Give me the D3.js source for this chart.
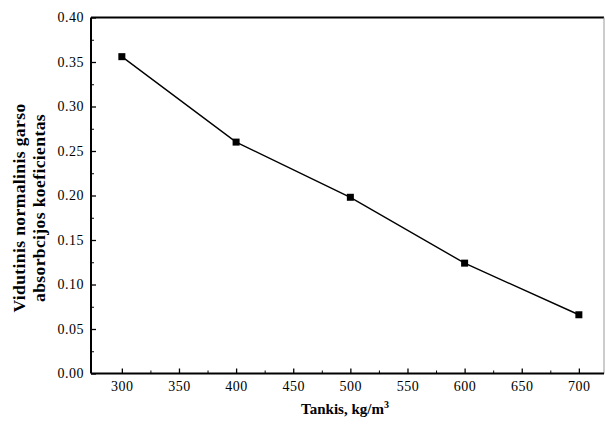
<!DOCTYPE html>
<html><head><meta charset="utf-8">
<script src="https://cdn.jsdelivr.net/npm/d3@7"></script>
<style>body{margin:0;background:#fff}svg{display:block}</style>
</head><body>
<script>
const density = [300, 400, 500, 600, 700];
const absorption = [0.356, 0.260, 0.198, 0.124, 0.066];
const xTicks = [300, 350, 400, 450, 500, 550, 600, 650, 700];
const yTicks = [0.00, 0.05, 0.10, 0.15, 0.20, 0.25, 0.30, 0.35, 0.40];

const W = 605, H = 424;
const L = 91, R = 604, T = 17.5, B = 373.5;
const svg = d3.select("body").append("svg").attr("width", W).attr("height", H);
const x = d3.scaleLinear().domain([273, 722]).range([L, R]);
const y = d3.scaleLinear().domain([0, 0.40]).range([B, T]);
const font = "'Liberation Serif', 'Times New Roman', serif";

// frame
svg.append("line").attr("x1", L).attr("x2", R).attr("y1", T).attr("y2", T).attr("stroke", "#000").attr("stroke-width", 2);
svg.append("line").attr("x1", R).attr("x2", R).attr("y1", T).attr("y2", B).attr("stroke", "#999").attr("stroke-width", 1);

// x axis
const xAxis = d3.axisBottom(x).tickValues(xTicks).tickSize(-5).tickPadding(8).tickFormat(d3.format("d"));
const gx = svg.append("g").attr("transform", `translate(0,${B})`).call(xAxis);
gx.select(".domain").attr("stroke-width", 2).attr("d", `M${L},0H${R}`);
gx.selectAll(".tick line").attr("stroke-width", 1.3);
gx.selectAll("text").attr("font-family", font).attr("font-size", 14).attr("letter-spacing", 0.5).attr("fill", "#000");
const xMinor = d3.axisBottom(x).tickValues(d3.range(325, 725, 50)).tickSize(-3).tickFormat("");
const gxm = svg.append("g").attr("transform", `translate(0,${B})`).call(xMinor);
gxm.select(".domain").remove();

// y axis
const yAxis = d3.axisLeft(y).tickValues(yTicks).tickSize(-5).tickPadding(7).tickFormat(d3.format(".2f"));
const gy = svg.append("g").attr("transform", `translate(${L},0)`).call(yAxis);
gy.select(".domain").attr("stroke-width", 2).attr("d", `M0,${T}V${B}`);
gy.selectAll(".tick line").attr("stroke-width", 1.3);
gy.selectAll("text").attr("font-family", font).attr("font-size", 14).attr("letter-spacing", 0.5).attr("fill", "#000");
const yMinor = d3.axisLeft(y).tickValues(d3.range(0.025, 0.4, 0.05)).tickSize(-3).tickFormat("");
const gym = svg.append("g").attr("transform", `translate(${L},0)`).call(yMinor);
gym.select(".domain").remove();

// line + markers
const pts = density.map((d, i) => [d, absorption[i]]);
svg.append("path").datum(pts)
  .attr("d", d3.line().x(d => x(d[0])).y(d => y(d[1])))
  .attr("fill", "none").attr("stroke", "#000").attr("stroke-width", 1.4);
svg.selectAll("rect.m").data(pts).enter().append("rect").attr("class", "m")
  .attr("x", d => x(d[0]) - 3.5).attr("y", d => y(d[1]) - 3.5)
  .attr("width", 7).attr("height", 7).attr("fill", "#000");

// axis titles
const xt = svg.append("text").attr("x", 345).attr("y", 414).attr("text-anchor", "middle")
  .attr("font-family", font).attr("font-weight", "bold").attr("font-size", 15);
xt.append("tspan").text("Tankis, kg/m");
xt.append("tspan").attr("dy", -6).attr("font-size", 10).text("3");

const yt = svg.append("text").attr("transform", "translate(0,208) rotate(-90)")
  .attr("text-anchor", "middle").attr("font-family", font).attr("font-weight", "bold").attr("font-size", 17.5)
  .attr("letter-spacing", 0.4);
yt.append("tspan").attr("x", 0).attr("y", 25).text("Vidutinis normalinis garso");
yt.append("tspan").attr("x", 0).attr("y", 45).text("absorbcijos koeficientas");
</script>
</body></html>
